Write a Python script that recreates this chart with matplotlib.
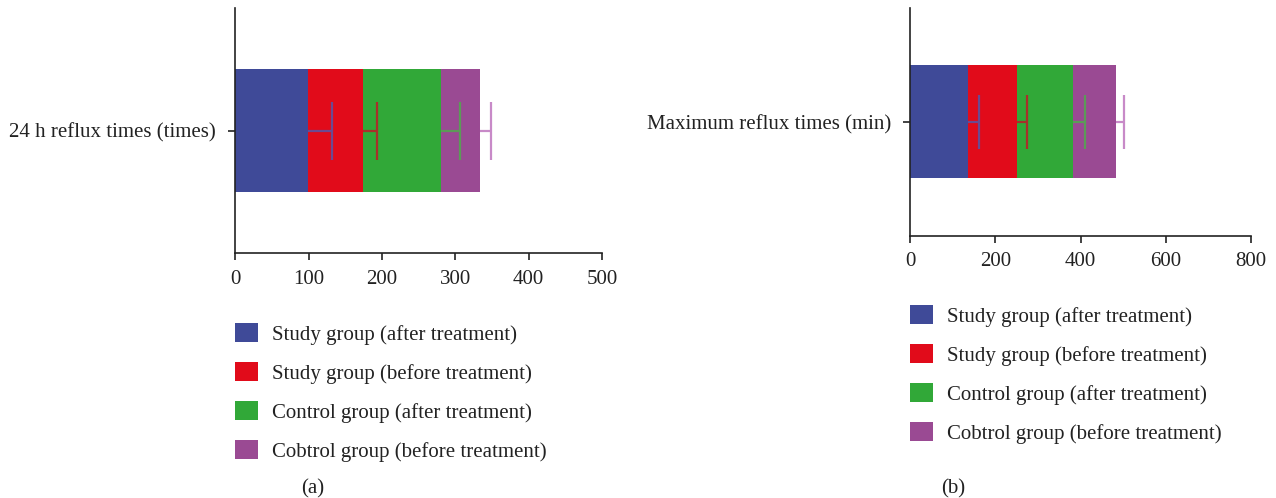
import matplotlib
matplotlib.use("Agg")
import matplotlib.pyplot as plt

plt.rcParams['font.family'] = ['Liberation Serif', 'DejaVu Serif']

series = ["Study group (after treatment)", "Study group (before treatment)",
          "Control group (after treatment)", "Cobtrol group (before treatment)"]
colors = ["#3f4a98", "#e10b1a", "#31a838", "#9a4a93"]
err_colors = ["#6a4a92", "#a8302a", "#5c9a58", "#c88ac8"]

cat_a = ["24 h reflux times (times)"]
vals_a = [98.7, 75.5, 106.3, 53.2]
errs_a = [32.7, 19.0, 25.5, 14.6]
ticks_a = [0, 100, 200, 300, 400, 500]

cat_b = ["Maximum reflux times (min)"]
vals_b = [135.6, 115.2, 131.6, 101.0]
errs_b = [25.8, 23.5, 28.9, 18.8]
ticks_b = [0, 200, 400, 600, 800]

W, H = 1276, 498
FS = 15
fig = plt.figure(figsize=(W / 100, H / 100), dpi=100)

def panel(rect, cat, vals, errs, ticks, capsize, bar_h, leg_xy, tag, tag_xy):
    ax = fig.add_axes(rect)
    left = 0.0
    handles = []
    for v, e, c, ec, lab in zip(vals, errs, colors, err_colors, series):
        b = ax.barh(cat, [v], left=[left], height=bar_h, color=c, label=lab, zorder=2)
        handles.append(b)
        eb = ax.errorbar([left + v], cat, xerr=[[0], [e]], fmt='none', ecolor=ec,
                         elinewidth=1.6, capsize=capsize, capthick=1.6, zorder=3)
        caps = eb.lines[1]
        if len(caps) >= 2:
            caps[0].set_visible(False)
        left += v
    ax.set_xlim(ticks[0], ticks[-1])
    ax.set_ylim(-1, 1)
    ax.set_xticks(ticks)
    for s in ("top", "right"):
        ax.spines[s].set_visible(False)
    for s in ("left", "bottom"):
        ax.spines[s].set_color("#222222")
        ax.spines[s].set_linewidth(1.2)
    ax.tick_params(axis='both', labelsize=FS, colors="#222222", length=5, width=1.2, pad=7)
    ax.tick_params(axis='y', pad=9)
    leg = fig.legend(handles=handles, labels=series, loc='upper left',
                     bbox_to_anchor=(leg_xy[0] / W, 1 - leg_xy[1] / H),
                     frameon=False, fontsize=FS, handlelength=1.1, handleheight=1.06,
                     labelspacing=0.82, handletextpad=0.67, borderpad=0, borderaxespad=0)
    for t in leg.get_texts():
        t.set_color("#222222")
    fig.text(tag_xy[0] / W, 1 - tag_xy[1] / H, tag, ha='center', va='center',
             fontsize=FS, color="#222222")
    return ax

panel([235.3 / W, 244.7 / H, 366.7 / W, 245.3 / H], cat_a, vals_a, errs_a, ticks_a,
      21, 1.0, (235, 323), "(a)", (313, 489))
panel([910.3 / W, 262.3 / H, 340.4 / W, 227.7 / H], cat_b, vals_b, errs_b, ticks_b,
      19.5, 0.99, (910, 305), "(b)", (953, 489))

fig.savefig("out.png", dpi=100)
